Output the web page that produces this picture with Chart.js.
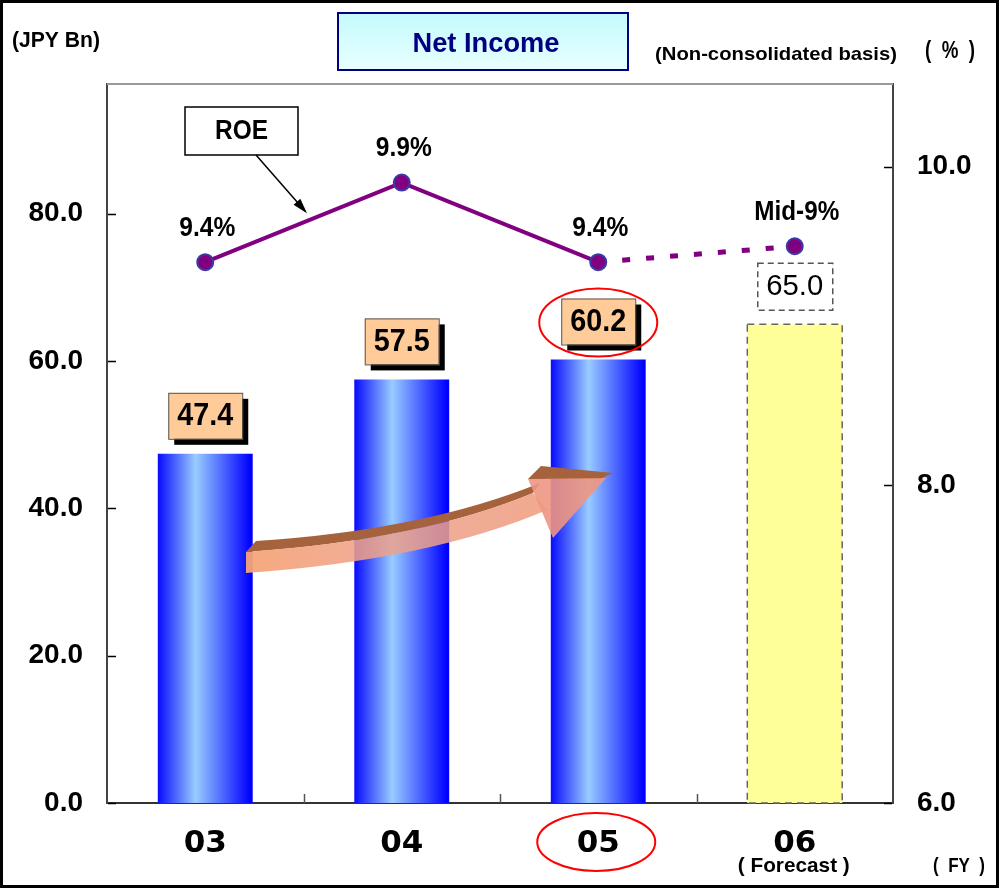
<!DOCTYPE html>
<html>
<head>
<meta charset="utf-8">
<script src="https://cdn.jsdelivr.net/npm/chart.js@4.4.1/dist/chart.umd.min.js"></script>
<style>
  html, body { margin: 0; padding: 0; background: #fff; }
  #wrap { width: 999px; height: 889px; }
</style>
</head>
<body>
<div id="wrap"><canvas id="netIncomeChart" width="999" height="889"></canvas></div>
<script>
// data
const years = ['03', '04', '05', '06'];
const netIncome = [47.4, 57.5, 60.2, 65.0];
const netIncomeLabels = ['47.4', '57.5', '60.2', '65.0'];
const roe = [9.4, 9.9, 9.4, 9.5];
const roeLabels = ['9.4%', '9.9%', '9.4%', 'Mid-9%'];
const leftTicks = [0, 20, 40, 60, 80];
const rightTicks = [6, 8, 10];
const forecastIndex = 3;

const FONT = '"Liberation Sans", Arial, sans-serif';

// draw text squeezed/stretched to a given width
function fitText(ctx, text, x, y, font, width, align) {
  ctx.save();
  ctx.font = font;
  const w = ctx.measureText(text).width;
  const s = width / w;
  let left = x;
  if (align === 'center') left = x - width / 2;
  if (align === 'right') left = x - width;
  ctx.textAlign = 'left';
  ctx.textBaseline = 'middle';
  ctx.translate(left, y);
  ctx.scale(s, 1);
  ctx.fillText(text, 0, 0);
  ctx.restore();
}

function barGradient(context) {
  const chart = context.chart;
  const i = context.dataIndex;
  if (i === forecastIndex) return '#ffff99';
  if (!chart.chartArea || i === undefined) return '#4a6cff';
  const xs = chart.scales.x;
  const cx = xs.getPixelForValue(i) - 2;
  const w = (xs.width / years.length) * 0.483;
  const g = chart.ctx.createLinearGradient(cx - w / 2, 0, cx + w / 2, 0);
  g.addColorStop(0, '#0000ff');
  g.addColorStop(0.42, '#99ccff');
  g.addColorStop(1, '#0000ff');
  return g;
}

const deco = {
  id: 'deco',
  beforeDraw(chart) {
    const ctx = chart.ctx;
    ctx.save();
    ctx.fillStyle = '#fff';
    ctx.fillRect(0, 0, chart.width, chart.height);
    ctx.restore();
  },
  afterDatasetsDraw(chart) {
    const ctx = chart.ctx;
    const ca = chart.chartArea;
    // map reference-space points into the chart area (decoration only)
    const P = (x, y) => [ca.left + (x - 107) * ca.width / 786, ca.top + (y - 84) * ca.height / 719];

    // dashed outline of the forecast bar
    const bar = chart.getDatasetMeta(1).data[forecastIndex];
    ctx.save();
    ctx.strokeStyle = '#666';
    ctx.lineWidth = 1.5;
    ctx.setLineDash([7, 5]);
    ctx.strokeRect(bar.x - bar.width / 2, bar.y, bar.width, bar.base - bar.y);
    ctx.restore();

    // orange growth arrow
    ctx.save();
    let p;
    // top face
    ctx.beginPath();
    p = P(246, 552); ctx.moveTo(p[0], p[1]);
    p = P(256, 541); ctx.lineTo(p[0], p[1]);
    let c = P(425, 530); p = P(540, 483); ctx.quadraticCurveTo(c[0], c[1], p[0], p[1]);
    p = P(533, 493); ctx.lineTo(p[0], p[1]);
    c = P(420, 540); p = P(246, 552); ctx.quadraticCurveTo(c[0], c[1], p[0], p[1]);
    ctx.closePath();
    ctx.fillStyle = '#a5623d';
    ctx.fill();
    // front face
    ctx.beginPath();
    p = P(246, 552); ctx.moveTo(p[0], p[1]);
    c = P(420, 540); p = P(533, 493); ctx.quadraticCurveTo(c[0], c[1], p[0], p[1]);
    p = P(547, 510); ctx.lineTo(p[0], p[1]);
    c = P(430, 560); p = P(246, 573); ctx.quadraticCurveTo(c[0], c[1], p[0], p[1]);
    ctx.closePath();
    const a0 = P(246, 0), a1 = P(547, 0);
    const gf = ctx.createLinearGradient(a0[0], 0, a1[0], 0);
    gf.addColorStop(0, 'rgba(246,165,118,0.95)');
    gf.addColorStop(0.5, 'rgba(236,160,140,0.85)');
    gf.addColorStop(1, 'rgba(240,160,130,0.9)');
    ctx.fillStyle = gf;
    ctx.fill();
    // head top face
    ctx.beginPath();
    p = P(528, 479); ctx.moveTo(p[0], p[1]);
    p = P(541, 466); ctx.lineTo(p[0], p[1]);
    p = P(613, 473); ctx.lineTo(p[0], p[1]);
    p = P(600, 479); ctx.lineTo(p[0], p[1]);
    ctx.closePath();
    ctx.fillStyle = '#a5623d';
    ctx.fill();
    // head front
    ctx.beginPath();
    p = P(528, 479); ctx.moveTo(p[0], p[1]);
    p = P(606, 478); ctx.lineTo(p[0], p[1]);
    p = P(553, 538); ctx.lineTo(p[0], p[1]);
    ctx.closePath();
    ctx.fillStyle = 'rgba(238,150,130,0.9)';
    ctx.fill();
    ctx.restore();
  },
  afterDraw(chart) {
    const ctx = chart.ctx;
    const ca = chart.chartArea;
    const xs = chart.scales.x, ys = chart.scales.y, yr = chart.scales.y1;
    const P = (x, y) => [ca.left + (x - 107) * ca.width / 786, ca.top + (y - 84) * ca.height / 719];
    const cw = xs.getPixelForValue(1) - xs.getPixelForValue(0);

    ctx.save();
    // plot frame top
    ctx.strokeStyle = '#999';
    ctx.lineWidth = 2;
    ctx.beginPath();
    ctx.moveTo(ca.left, ca.top);
    ctx.lineTo(ca.right, ca.top);
    ctx.stroke();

    // inward tick marks
    ctx.strokeStyle = '#000';
    ctx.lineWidth = 1.5;
    ctx.beginPath();
    leftTicks.forEach(v => {
      const y = Math.round(ys.getPixelForValue(v)) + 0.5;
      ctx.moveTo(ca.left + 1, y); ctx.lineTo(ca.left + 9, y);
    });
    rightTicks.forEach(v => {
      const y = Math.round(yr.getPixelForValue(v)) + 0.5;
      ctx.moveTo(ca.right - 9, y); ctx.lineTo(ca.right - 1, y);
    });
    ctx.stroke();
    ctx.strokeStyle = '#555';
    ctx.beginPath();
    for (let i = 0; i < years.length - 1; i++) {
      const x = Math.round(xs.getPixelForValue(i) + cw / 2) + 0.5;
      ctx.moveTo(x, ca.bottom); ctx.lineTo(x, ca.bottom - 9);
    }
    ctx.stroke();

    // value boxes above bars
    const bars = chart.getDatasetMeta(1).data;
    bars.forEach((el, i) => {
      const w = 74, h = 46;
      const x = el.x - w / 2, y = el.y - 15 - h;
      if (i === forecastIndex) {
        ctx.save();
        ctx.strokeStyle = '#555';
        ctx.lineWidth = 1.5;
        ctx.setLineDash([6, 4]);
        ctx.strokeRect(x, y, w + 1, h + 1);
        ctx.restore();
        ctx.fillStyle = '#000';
        fitText(ctx, netIncomeLabels[i], el.x, y + h / 2 + 1, '29px ' + FONT, 57, 'center');
      } else {
        ctx.fillStyle = '#000';
        ctx.fillRect(x + 6, y + 6, w, h);
        ctx.fillStyle = '#ffcc99';
        ctx.fillRect(x, y, w, h);
        ctx.strokeStyle = '#555';
        ctx.lineWidth = 1;
        ctx.strokeRect(x + 0.5, y + 0.5, w, h);
        ctx.fillStyle = '#000';
        fitText(ctx, netIncomeLabels[i], el.x, y + h / 2 + 1, 'bold 31px ' + FONT, 56, 'center');
      }
    });

    // ROE value labels
    const pts = chart.getDatasetMeta(0).data;
    ctx.fillStyle = '#000';
    pts.forEach((pt, i) => {
      const isMid = i === forecastIndex;
      fitText(ctx, roeLabels[i], pt.x + 2, pt.y - 34, 'bold 27px ' + FONT, isMid ? 85 : 56, 'center');
    });

    // ROE callout
    let a = P(185, 107), b = P(298, 155);
    ctx.fillStyle = '#fff';
    ctx.fillRect(a[0], a[1], b[0] - a[0], b[1] - a[1]);
    ctx.strokeStyle = '#000';
    ctx.lineWidth = 1.5;
    ctx.strokeRect(a[0], a[1], b[0] - a[0], b[1] - a[1]);
    ctx.fillStyle = '#000';
    fitText(ctx, 'ROE', (a[0] + b[0]) / 2, (a[1] + b[1]) / 2 + 1, 'bold 27px ' + FONT, 53, 'center');
    const s = P(256, 155), e = P(305, 211);
    ctx.beginPath();
    ctx.moveTo(s[0], s[1]);
    ctx.lineTo(e[0], e[1]);
    ctx.stroke();
    const ang = Math.atan2(e[1] - s[1], e[0] - s[0]);
    ctx.beginPath();
    ctx.moveTo(e[0] + 3 * Math.cos(ang), e[1] + 3 * Math.sin(ang));
    ctx.lineTo(e[0] - 13 * Math.cos(ang - 0.35), e[1] - 13 * Math.sin(ang - 0.35));
    ctx.lineTo(e[0] - 13 * Math.cos(ang + 0.35), e[1] - 13 * Math.sin(ang + 0.35));
    ctx.closePath();
    ctx.fill();

    // red highlight ellipses on FY05
    const b05 = bars[2];
    ctx.strokeStyle = '#ff0000';
    ctx.lineWidth = 2;
    ctx.beginPath();
    ctx.ellipse(b05.x, b05.y - 15 - 23 + 1, 59, 34, 0, 0, Math.PI * 2);
    ctx.stroke();
    ctx.beginPath();
    ctx.ellipse(xs.getPixelForValue(2) - 2, ca.bottom + 39, 59, 29, 0, 0, Math.PI * 2);
    ctx.stroke();

    // header and footer texts
    ctx.fillStyle = '#000';
    fitText(ctx, '(JPY Bn)', 12, 41, 'bold 22px ' + FONT, 88, 'left');
    let t0 = P(338, 13), t1 = P(628, 70);
    const tg = ctx.createLinearGradient(0, t0[1], 0, t1[1]);
    tg.addColorStop(0, '#c4fafd');
    tg.addColorStop(1, '#e8ffff');
    ctx.fillStyle = tg;
    ctx.fillRect(t0[0], t0[1], t1[0] - t0[0], t1[1] - t0[1]);
    ctx.strokeStyle = '#000080';
    ctx.lineWidth = 2;
    ctx.strokeRect(t0[0], t0[1], t1[0] - t0[0], t1[1] - t0[1]);
    ctx.fillStyle = '#000080';
    fitText(ctx, 'Net Income', 486, 44, 'bold 28px ' + FONT, 147, 'center');
    ctx.fillStyle = '#000';
    fitText(ctx, '(Non-consolidated basis)', 655, 55, 'bold 19px ' + FONT, 242, 'left');
    fitText(ctx, '(  %  )', 925, 52, 'bold 23px ' + FONT, 50, 'left');
    fitText(ctx, '( Forecast )', xs.getPixelForValue(forecastIndex) - 1, ca.bottom + 63, 'bold 21px ' + FONT, 112, 'center');
    fitText(ctx, '(  FY  )', 933, ca.bottom + 63, 'bold 21px ' + FONT, 52, 'left');

    // outer frame
    ctx.strokeStyle = '#000';
    ctx.lineWidth = 3;
    ctx.strokeRect(1.5, 1.5, chart.width - 3, chart.height - 4);
    ctx.restore();
  }
};

const ctx = document.getElementById('netIncomeChart').getContext('2d');
const chart = new Chart(ctx, {
  data: {
    labels: years,
    datasets: [
      {
        type: 'line',
        label: 'ROE',
        data: roe,
        yAxisID: 'y1',
        order: 0,
        borderColor: '#800080',
        borderWidth: 4,
        tension: 0,
        pointRadius: 8,
        pointBackgroundColor: '#800080',
        pointBorderColor: '#3a3aa8',
        pointBorderWidth: 2,
        clip: false,
        segment: {
          borderDash: c => c.p0DataIndex === 2 ? [8, 16] : undefined,
          borderWidth: c => c.p0DataIndex === 2 ? 5 : undefined
        }
      },
      {
        type: 'bar',
        label: 'Net Income',
        data: netIncome,
        yAxisID: 'y',
        order: 1,
        backgroundColor: barGradient,
        borderWidth: 0,
        barPercentage: 0.483,
        categoryPercentage: 1
      }
    ]
  },
  options: {
    responsive: false,
    animation: false,
    devicePixelRatio: 1,
    layout: { padding: { top: 84, left: 0, right: 0, bottom: 0 } },
    plugins: {
      legend: { display: false },
      tooltip: { enabled: false }
    },
    scales: {
      x: {
        grid: { display: false, drawTicks: false },
        border: { display: true, color: '#333', width: 2 },
        ticks: {
          color: '#000',
          padding: 22,
          font: { family: '"DejaVu Sans", sans-serif', size: 31, weight: 'bold' }
        },
        afterFit: s => { s.height = 86; }
      },
      y: {
        position: 'left',
        min: 0,
        max: 97.6,
        afterBuildTicks: s => { s.ticks = leftTicks.map(v => ({ value: v })); },
        grid: { display: false, drawTicks: false },
        border: { display: true, color: '#444', width: 2 },
        ticks: {
          color: '#000',
          padding: 24,
          font: { family: FONT, size: 28, weight: 'bold' },
          callback: v => Number(v).toFixed(1)
        },
        afterFit: s => { s.width = 107; }
      },
      y1: {
        position: 'right',
        min: 6,
        max: 10.52,
        afterBuildTicks: s => { s.ticks = rightTicks.map(v => ({ value: v })); },
        grid: { display: false, drawTicks: false },
        border: { display: true, color: '#444', width: 2 },
        ticks: {
          color: '#000',
          padding: 24,
          font: { family: FONT, size: 28, weight: 'bold' },
          callback: v => Number(v).toFixed(1)
        },
        afterFit: s => { s.width = 106; }
      }
    }
  },
  plugins: [deco]
});
</script>
</body>
</html>
